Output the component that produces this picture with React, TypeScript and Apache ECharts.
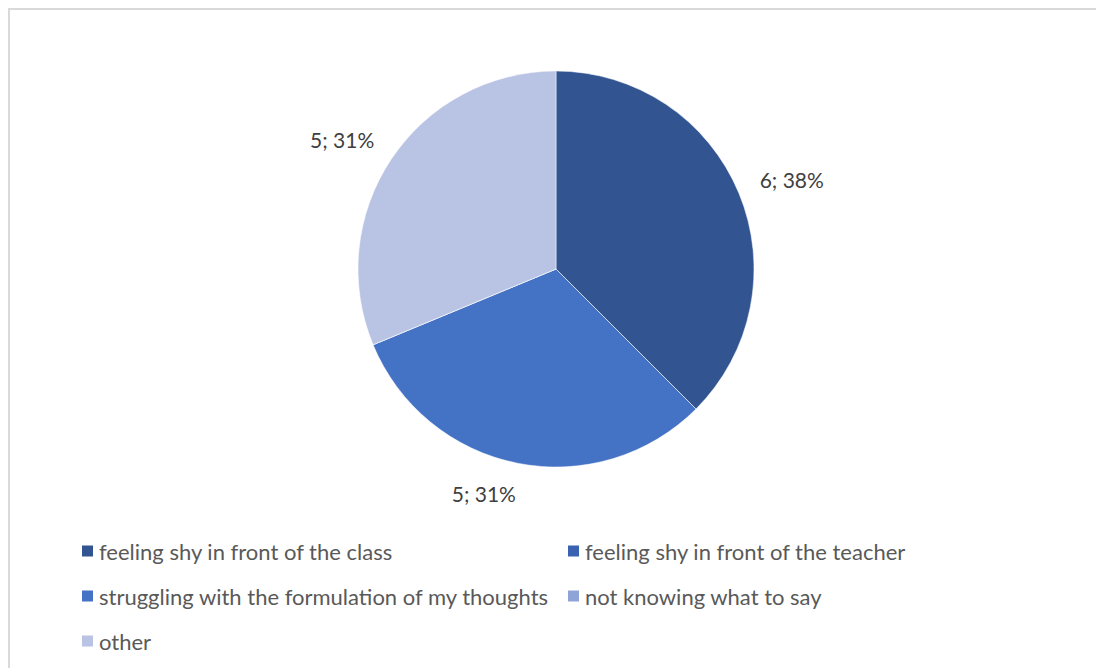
import React, { useEffect, useRef } from "react";
import * as echarts from "echarts";

// Reasons given, with the number of answers for each
const categories = [
  "feeling shy in front of the class",
  "feeling shy in front of the teacher",
  "struggling with the formulation of my thoughts",
  "not knowing what to say",
  "other",
];
const counts = [6, 0, 5, 0, 5];
const colors = ["#325592", "#3B62B0", "#4472C4", "#8EA3D6", "#B9C3E3"];

const FONT = "Lato, 'Noto Sans', sans-serif";

export default function App() {
  const ref = useRef<HTMLDivElement>(null);

  useEffect(() => {
    if (!ref.current) return;
    const chart = echarts.init(ref.current, undefined, { renderer: "svg" });

    const cx = 546;
    const cy = 259;
    const radius = 198;
    const total = counts.reduce((a, b) => a + b, 0);

    // mid angle (radians, screen coords) of each slice, clockwise from the top
    const midAngles: number[] = [];
    let acc = 0;
    counts.forEach((v) => {
      const mid = (acc + v / 2) / total;
      midAngles.push(-Math.PI / 2 + mid * 2 * Math.PI);
      acc += v;
    });
    // small best-fit nudges for the outside labels
    const nudges: Record<number, [number, number]> = {
      0: [6, 6],
      2: [-27, -3],
      4: [-8, 8],
    };

    const legendText = { fontFamily: FONT, fontSize: 22, color: "#595959", lineHeight: 24 };

    chart.setOption({
      animation: false,
      color: colors,
      legend: [
        {
          orient: "vertical",
          left: 70,
          top: 529,
          padding: 0,
          itemWidth: 13,
          itemHeight: 13,
          itemGap: 21,
          icon: "rect",
          data: [categories[0], categories[2], categories[4]],
          textStyle: legendText,
        },
        {
          orient: "vertical",
          left: 556,
          top: 529,
          padding: 0,
          itemWidth: 13,
          itemHeight: 13,
          itemGap: 21,
          icon: "rect",
          data: [categories[1], categories[3]],
          textStyle: legendText,
        },
      ],
      series: [
        {
          type: "pie",
          center: [cx, cy],
          radius: radius,
          startAngle: 90,
          clockwise: true,
          avoidLabelOverlap: false,
          itemStyle: { borderColor: "#ffffff", borderWidth: 0.5 },
          label: {
            position: "outside",
            fontFamily: FONT,
            fontSize: 21,
            color: "#404040",
            formatter: (p: any) => `${p.value}; ${Math.round(p.percent)}%`,
          },
          labelLine: { show: false },
          labelLayout: (params: any) => {
            const a = midAngles[params.dataIndex];
            const dx = Math.cos(a);
            const dy = Math.sin(a);
            const w = params.labelRect.width;
            const h = params.labelRect.height;
            const d = radius + 17 + Math.abs(dx) * (w / 2) + Math.abs(dy) * (h / 2);
            const n = nudges[params.dataIndex] || [0, 0];
            return {
              x: cx + dx * d + n[0],
              y: cy + dy * d + n[1],
              align: "center",
              verticalAlign: "middle",
            };
          },
          emphasis: { disabled: true },
          data: categories.map((name, i) => ({
            name,
            value: counts[i],
            label: { show: counts[i] > 0 },
          })),
        },
      ],
    });

    return () => chart.dispose();
  }, []);

  return (
    <div
      style={{
        position: "fixed",
        left: 0,
        top: 0,
        width: 1096,
        height: 668,
        overflow: "hidden",
        background: "#ffffff",
      }}
    >
      <div
        style={{
          position: "absolute",
          left: 8,
          top: 8,
          width: 1088,
          height: 660,
          borderTop: "2px solid #d9d9d9",
          borderLeft: "2px solid #d9d9d9",
          boxSizing: "border-box",
        }}
      >
        <div ref={ref} style={{ width: 1086, height: 658 }} />
      </div>
    </div>
  );
}
